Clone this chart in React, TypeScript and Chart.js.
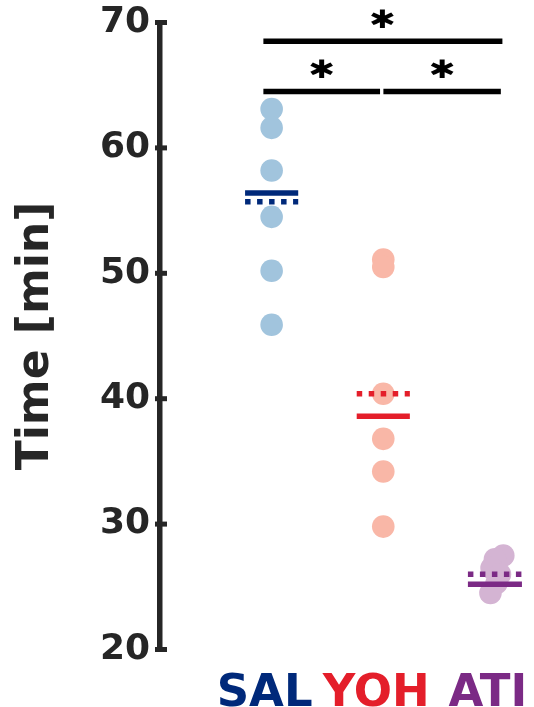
import React, { useEffect, useRef } from "react";
import { Chart, registerables } from "chart.js";

Chart.register(...registerables);

// ---- data ----
const groups = ["SAL", "YOH", "ATI"];
const groupPositions = [1, 2, 3];
const groupColors = ["#00297a", "#e41e2a", "#7b2a85"];
const pointColors = ["#a1c4dd", "#f9b7a7", "#d4b4d3"];

const salValues = [63.1, 61.6, 58.2, 54.5, 50.2, 45.9];
const yohValues = [51.1, 50.5, 40.4, 36.8, 34.2, 29.8];
const atiValues = [27.5, 27.2, 26.5, 26.0, 25.3, 24.5];
const salJitter = [0, 0, 0, 0, 0, 0];
const yohJitter = [0, 0, 0, 0, 0, 0];
const atiJitter = [0.075, 0.0, -0.03, 0.045, 0.015, -0.04];

const medians = [56.4, 38.6, 25.2]; // solid lines
const means = [55.7, 40.4, 26.0]; // dotted lines
const lineHalfWidths = [0.238, 0.238, 0.242];

const yTicks = [20, 30, 40, 50, 60, 70];

// significance bars: [xStart, xEnd, y]
const sigBarStarts = [0.926, 0.926, 2.001];
const sigBarEnds = [3.067, 1.971, 3.053];
const sigBarLevels = [68.5, 64.5, 64.5];
// significance stars: x, y, label
const starX = [1.99, 1.445, 2.525];
const starY = [70.33, 66.35, 66.35];
const starText = ["✱", "✱", "✱"];

const INK = "#262626";
const FONT = "'DejaVu Sans', sans-serif";
const STAR_FONT = "'DejaVu Sans', sans-serif";
const STAR_W = 23;
const STAR_H = 18.5;

const inwardTicksAndStars = {
  id: "inwardTicksAndStars",
  afterDraw(chart: any) {
    const { ctx, chartArea, scales } = chart;
    const y = scales.y;
    const x = scales.x;
    ctx.save();
    ctx.strokeStyle = INK;
    ctx.lineWidth = 5;
    for (const v of yTicks) {
      const py = y.getPixelForValue(v);
      ctx.beginPath();
      ctx.moveTo(chartArea.left - 5, py);
      ctx.lineTo(chartArea.left + 7, py);
      ctx.stroke();
    }
    ctx.fillStyle = "#000";
    ctx.textAlign = "left";
    ctx.textBaseline = "alphabetic";
    ctx.font = `bold 100px ${STAR_FONT}`;
    for (let i = 0; i < starX.length; i++) {
      const t = starText[i];
      const m = ctx.measureText(t);
      const w = m.actualBoundingBoxLeft + m.actualBoundingBoxRight;
      const h = m.actualBoundingBoxAscent + m.actualBoundingBoxDescent;
      const sx = w > 0 ? STAR_W / w : 0.25;
      const sy = h > 0 ? STAR_H / h : 0.25;
      const px = x.getPixelForValue(starX[i]);
      const py = y.getPixelForValue(starY[i]);
      ctx.save();
      ctx.translate(px, py);
      ctx.scale(sx, sy);
      const cx = -(m.actualBoundingBoxRight - m.actualBoundingBoxLeft) / 2;
      const cy = (m.actualBoundingBoxAscent - m.actualBoundingBoxDescent) / 2;
      ctx.fillText(t, cx, cy);
      ctx.restore();
    }
    ctx.restore();
  },
};

export default function App() {
  const ref = useRef<HTMLCanvasElement | null>(null);

  useEffect(() => {
    document.body.style.margin = "0";
    const canvas = ref.current;
    if (!canvas) return;

    const pointSets = [salValues, yohValues, atiValues];
    const jitters = [salJitter, yohJitter, atiJitter];
    const datasets: any[] = [];

    pointSets.forEach((vals, g) => {
      datasets.push({
        type: "scatter",
        data: vals.map((v, i) => ({ x: groupPositions[g] + jitters[g][i], y: v })),
        backgroundColor: pointColors[g],
        borderWidth: 0,
        pointRadius: 11.3,
        pointHoverRadius: 11.3,
        order: 2,
      });
    });

    groupPositions.forEach((pos, g) => {
      const hw = lineHalfWidths[g];
      datasets.push({
        type: "line",
        data: [
          { x: pos - hw, y: medians[g] },
          { x: pos + hw, y: medians[g] },
        ],
        borderColor: groupColors[g],
        borderWidth: 5.5,
        pointRadius: 0,
        borderCapStyle: "butt",
        order: 1,
      });
      datasets.push({
        type: "line",
        data: [
          { x: pos - hw, y: means[g] },
          { x: pos + hw, y: means[g] },
        ],
        borderColor: groupColors[g],
        borderWidth: 5.5,
        borderDash: [5.5, 6.5],
        pointRadius: 0,
        borderCapStyle: "butt",
        order: 1,
      });
    });

    sigBarLevels.forEach((lvl, i) => {
      datasets.push({
        type: "line",
        data: [
          { x: sigBarStarts[i], y: lvl },
          { x: sigBarEnds[i], y: lvl },
        ],
        borderColor: "#000",
        borderWidth: 5.5,
        pointRadius: 0,
        borderCapStyle: "butt",
        clip: false,
        order: 0,
      });
    });

    const chart = new Chart(canvas, {
      type: "scatter",
      data: { datasets },
      options: {
        animation: false,
        responsive: false,
        maintainAspectRatio: false,
        events: [],
        layout: { autoPadding: false, padding: { top: 22.5, right: 0, bottom: 0, left: 0 } },
        plugins: {
          legend: { display: false },
          tooltip: { enabled: false },
        },
        scales: {
          x: {
            type: "linear",
            min: 0,
            max: 3.35,
            grid: { display: false },
            border: { display: false },
            afterBuildTicks: (s: any) => {
              s.ticks = groupPositions.map((v) => ({ value: v }));
            },
            afterFit: (s: any) => {
              s.height = 57.5;
              s.paddingLeft = 0;
              s.paddingRight = 0;
            },
            ticks: {
              autoSkip: false,
              maxRotation: 0,
              minRotation: 0,
              padding: 10,
              labelOffset: -7,
              callback: (v: any) => groups[groupPositions.indexOf(Number(v))] ?? "",
              color: (c: any) => groupColors[c.index] ?? INK,
              font: { family: FONT, weight: "bold", size: 45 },
            },
          },
          y: {
            type: "linear",
            min: 20,
            max: 70,
            afterBuildTicks: (s: any) => {
              s.ticks = yTicks.map((v) => ({ value: v }));
            },
            afterFit: (s: any) => {
              s.width = 160;
              s.paddingTop = 0;
              s.paddingBottom = 0;
            },
            grid: { display: false, drawTicks: false },
            border: { display: true, color: INK, width: 5.5 },
            ticks: {
              color: INK,
              padding: 10,
              font: { family: FONT, weight: "bold", size: 36 },
            },
            title: {
              display: true,
              text: "Time [min]",
              color: INK,
              padding: { top: 10, bottom: 0 },
              font: { family: FONT, weight: "bold", size: 44 },
            },
          },
        },
      },
      plugins: [inwardTicksAndStars],
    } as any);

    return () => chart.destroy();
  }, []);

  return (
    <div style={{ position: "absolute", left: 0, top: 0, width: 534, height: 707 }}>
      <canvas ref={ref} width={534} height={707} style={{ display: "block", width: 534, height: 707 }} />
    </div>
  );
}
